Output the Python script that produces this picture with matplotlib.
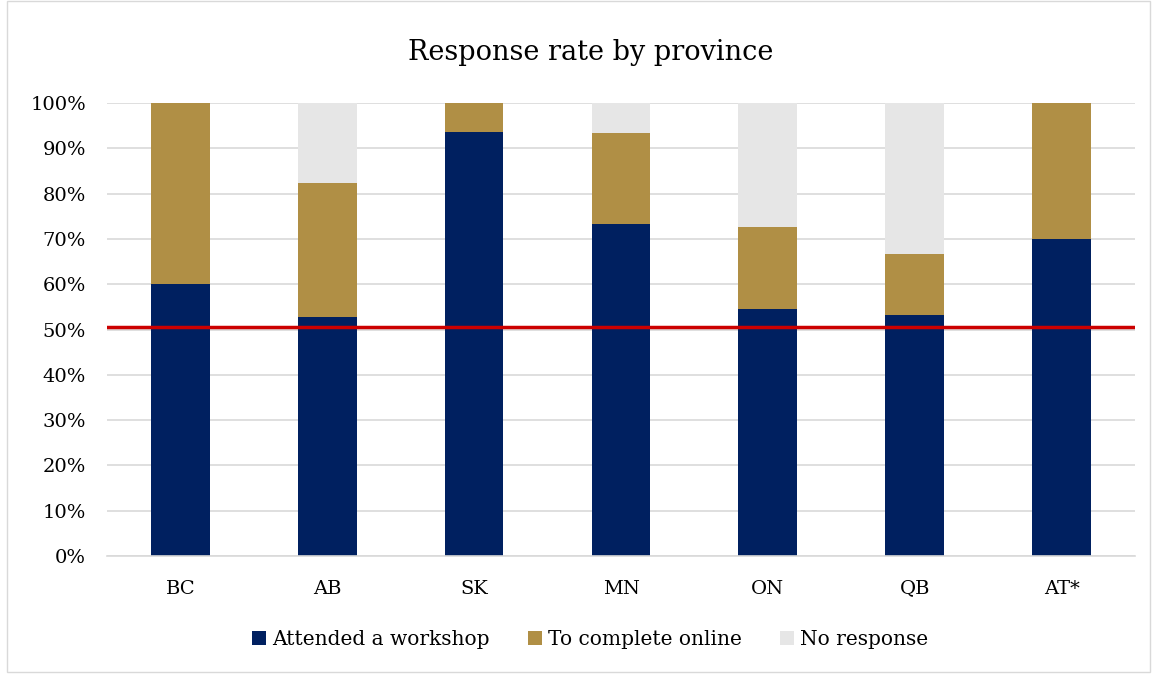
import matplotlib.pyplot as plt
from matplotlib.patches import Rectangle
import numpy as np

provinces = ["BC", "AB", "SK", "MN", "ON", "QB", "AT*"]
attended = [60.0, 52.8, 93.7, 73.3, 54.5, 53.2, 70.0]
online = [40.0, 29.5, 6.3, 20.0, 18.2, 13.5, 30.0]
no_response = [0.0, 17.7, 0.0, 6.7, 27.3, 33.3, 0.0]
threshold = 50.5

plt.rcParams['font.family'] = ['DejaVu Serif']

fig = plt.figure(figsize=(11.55, 6.75), dpi=100)
ax = fig.add_axes([0.0926, 0.1763, 0.8901, 0.6711])

x = np.arange(len(provinces))
w = 0.4
b1 = ax.bar(x, attended, w, color="#002060", label="Attended a workshop", zorder=2)
bottom2 = np.array(attended)
b2 = ax.bar(x, online, w, bottom=bottom2, color="#B08F45", label="To complete online", zorder=2)
bottom3 = bottom2 + np.array(online)
b3 = ax.bar(x, no_response, w, bottom=bottom3, color="#E6E6E6", label="No response", zorder=2)

ax.axhline(threshold, color="#CC0000", lw=2.5, zorder=3)

ax.set_xlim(-0.5, len(provinces) - 0.5)
ax.set_ylim(0, 100)
ax.set_yticks(range(0, 101, 10))
ax.set_yticklabels([f"{v}%" for v in range(0, 101, 10)], fontsize=14)
ax.set_xticks(x)
ax.set_xticklabels(provinces, fontsize=14)
ax.yaxis.grid(True, color="#D9D9D9", lw=1.2, zorder=0)
ax.set_axisbelow(True)
for s in ["top", "right", "left"]:
    ax.spines[s].set_visible(False)
ax.spines["bottom"].set_color("#D9D9D9")
ax.spines["bottom"].set_linewidth(1.2)
ax.tick_params(axis="y", length=0, pad=15)
ax.tick_params(axis="x", length=0, pad=17)

fig.text(0.511, 0.922, "Response rate by province", ha="center", va="center", fontsize=19.5)

fig.legend(handles=[b1, b2, b3], loc="center", bbox_to_anchor=(0.511, 0.052), ncol=3,
           frameon=False, fontsize=14.5, handlelength=0.7, handleheight=0.7,
           handletextpad=0.3, columnspacing=1.9)

fig.patches.append(Rectangle((0.006, 0.004), 0.99, 0.994, transform=fig.transFigure,
                             fill=False, edgecolor="#D9D9D9", lw=1))

fig.savefig("out.png", dpi=100)
